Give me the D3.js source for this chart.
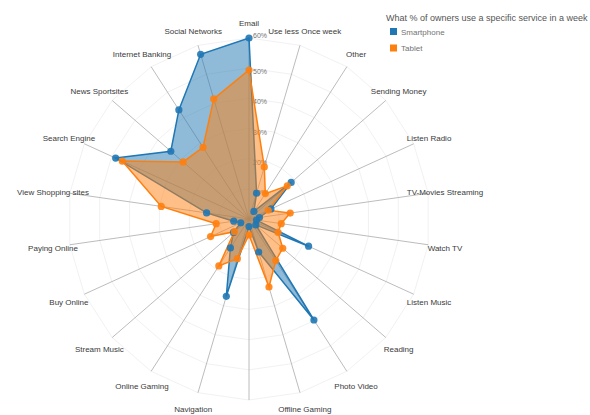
<!DOCTYPE html>
<html>
<head>
<meta charset="utf-8">
<script src="https://cdn.jsdelivr.net/npm/d3@7"></script>
<style>
  html, body { margin: 0; padding: 0; background: #fff; }
  svg { display: block; font-family: "Liberation Sans", Arial, sans-serif; }
</style>
</head>
<body>
<svg id="chart" width="590" height="415"></svg>
<script>
// ---- data ----
const categories = ["Email", "Use less Once week", "Other", "Sending Money", "Listen Radio",
  "TV-Movies Streaming", "Watch TV", "Listen Music", "Reading", "Photo Video", "Offline Gaming",
  "Location Based Services", "Navigation", "Online Gaming", "Stream Music", "Buy Online",
  "Paying Online", "View Shopping sites", "Search Engine", "News Sportsites", "Internet Banking",
  "Social Networks"];
const seriesNames = ["Smartphone", "Tablet"];
const smartphone = [0.60, 0.089, 0.03, 0.185, 0.08, 0.035, 0.025, 0.217, 0.03, 0.398, 0.114,
  0.025, 0.267, 0.114, 0.068, 0.03, 0.051, 0.142, 0.486, 0.343, 0.43, 0.569];
const tablet = [0.494, 0.18, 0.10, 0.168, 0.07, 0.138, 0.108, 0.106, 0.148, 0.164, 0.235,
  0.053, 0.137, 0.185, 0.064, 0.14, 0.11, 0.294, 0.462, 0.289, 0.282, 0.415];
const levelTicks = [0.1, 0.2, 0.3, 0.4, 0.5, 0.6];
const legendTitle = "What % of owners use a specific service in a week";
const colors = ["#1f77b4", "#ff7f0e"];

// ---- layout ----
const cx = 249, cy = 219, R = 181;
const N = categories.length;
const maxValue = 0.6;
const rScale = d3.scaleLinear().domain([0, maxValue]).range([0, R]);
const angle = d3.scaleLinear().domain([0, N]).range([0, 2 * Math.PI]);
const px = (i, r) => cx + r * Math.sin(angle(i));
const py = (i, r) => cy - r * Math.cos(angle(i));

const svg = d3.select("#chart");
const g = svg.append("g");

// level grid
levelTicks.forEach(t => {
  const r = rScale(t);
  g.append("polygon")
    .attr("points", d3.range(N).map(i => [px(i, r), py(i, r)].join(",")).join(" "))
    .attr("fill", "none")
    .attr("stroke", "#bbb")
    .attr("stroke-opacity", 0.4)
    .attr("stroke-width", 0.5);
});

// axes
g.selectAll(".axis").data(categories).enter().append("line")
  .attr("x1", cx).attr("y1", cy)
  .attr("x2", (d, i) => px(i, R)).attr("y2", (d, i) => py(i, R))
  .attr("stroke", "#ababab").attr("stroke-width", 0.8);

// level labels
g.selectAll(".lvl").data(levelTicks).enter().append("text")
  .attr("x", cx + 4)
  .attr("y", d => cy - rScale(d) + (d === maxValue ? 0 : 6))
  .attr("font-size", "7px")
  .attr("fill", "#737373")
  .text(d => d3.format(".0%")(d));

// axis labels
const rxL = R + 17, ryL = R + 16;
g.selectAll(".lab").data(categories).enter().append("text")
  .attr("x", (d, i) => cx + rxL * Math.sin(angle(i)))
  .attr("y", (d, i) => cy - ryL * Math.cos(angle(i)) + 4)
  .attr("text-anchor", "middle")
  .attr("font-size", "8px")
  .attr("fill", "#3a3a3a")
  .text(d => d);

// polygons
const allSeries = [smartphone, tablet];
allSeries.forEach((vals, s) => {
  g.append("polygon")
    .attr("points", vals.map((v, i) => [px(i, rScale(v)), py(i, rScale(v))].join(",")).join(" "))
    .attr("fill", colors[s]).attr("fill-opacity", 0.5)
    .attr("stroke", colors[s]).attr("stroke-width", 1.5);
});
allSeries.forEach((vals, s) => {
  g.selectAll(".node" + s).data(vals).enter().append("circle")
    .attr("cx", (v, i) => px(i, rScale(v)))
    .attr("cy", (v, i) => py(i, rScale(v)))
    .attr("r", 3.6)
    .attr("fill", colors[s]).attr("fill-opacity", 0.9);
});

// legend
const lg = svg.append("g");
lg.append("text").attr("x", 386).attr("y", 21)
  .attr("font-size", "9px").attr("fill", "#555").text(legendTitle);
lg.selectAll("rect").data(seriesNames).enter().append("rect")
  .attr("x", 390).attr("y", (d, i) => 28 + i * 16.5)
  .attr("width", 7).attr("height", 7)
  .attr("fill", (d, i) => colors[i]);
lg.selectAll(".lt").data(seriesNames).enter().append("text")
  .attr("x", 401).attr("y", (d, i) => 34.5 + i * 16.5)
  .attr("font-size", "8px").attr("fill", "#737373").text(d => d);
</script>
</body>
</html>
